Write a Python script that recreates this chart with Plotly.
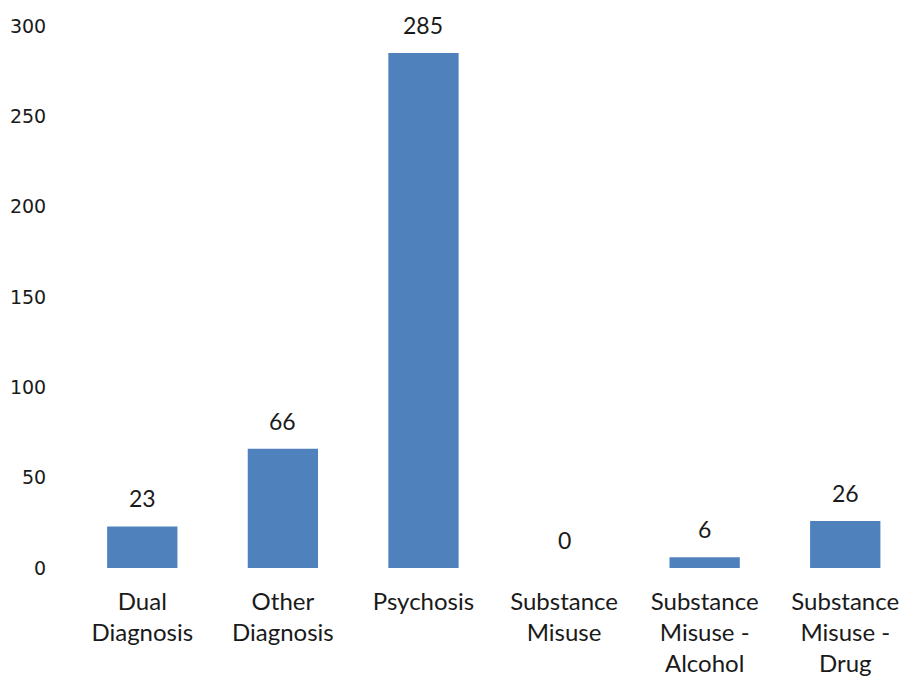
import plotly.graph_objects as go

categories = [
    "Dual<br>Diagnosis",
    "Other<br>Diagnosis",
    "Psychosis",
    "Substance<br>Misuse",
    "Substance<br>Misuse -<br>Alcohol",
    "Substance<br>Misuse -<br>Drug",
]
values = [23, 66, 285, 0, 6, 26]
y_ticks = [0, 50, 100, 150, 200, 250, 300]

BAR_COLOR = "#4F81BD"
TEXT_COLOR = "#1a1a1a"
LABEL_FONT = "Lato"

fig = go.Figure(
    go.Bar(
        x=categories,
        y=values,
        marker=dict(color=BAR_COLOR, line=dict(width=0)),
        width=0.5,
        hoverinfo="skip",
    )
)

# value labels above each bar
for cat, val in zip(categories, values):
    fig.add_annotation(
        x=cat, y=val, text=str(val), showarrow=False,
        yanchor="bottom", yshift=12,
        font=dict(family=LABEL_FONT, size=23, color=TEXT_COLOR),
    )

fig.update_layout(
    width=905, height=684,
    margin=dict(l=72, r=0, t=26, b=116),
    paper_bgcolor="white", plot_bgcolor="white",
    showlegend=False,
    bargap=0.5,
)
fig.update_xaxes(
    range=[-0.5, 5.425],
    showline=False, showgrid=False, zeroline=False,
    ticks="outside", ticklen=12, tickcolor="rgba(0,0,0,0)",
    tickfont=dict(family=LABEL_FONT, size=24, color=TEXT_COLOR),
    tickangle=0,
)
fig.update_yaxes(
    range=[0, 300],
    tickvals=y_ticks,
    showline=False, showgrid=False, zeroline=False,
    ticks="outside", ticklen=21, tickcolor="rgba(0,0,0,0)",
    tickfont=dict(family="DejaVu Sans", size=19, color="#1a1a1a"),
)

fig.write_html("out.html")
